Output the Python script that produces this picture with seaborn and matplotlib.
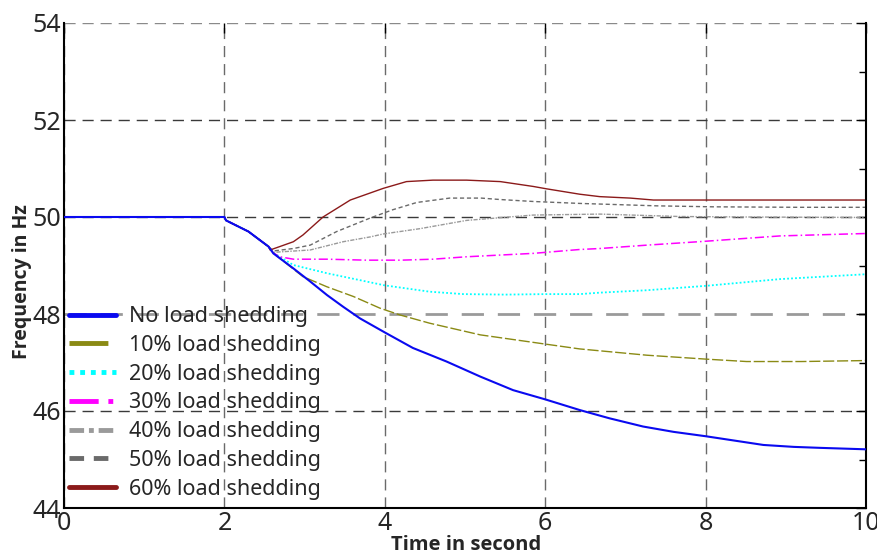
import numpy as np
import pandas as pd
import matplotlib
matplotlib.use("Agg")
import matplotlib.pyplot as plt
from matplotlib.ticker import MultipleLocator
import seaborn as sns

sns.set_theme(style="white")
plt.rcParams["font.family"] = ["Noto Sans", "DejaVu Sans"]

# Frequency before any load is shed (shared by every case)
t_pre = [0.0, 2.0, 2.02, 2.3, 2.55]
f_pre = [50.0, 50.0, 49.93, 49.70, 49.39]

t_none = [2.61, 2.86, 3.07, 3.28, 3.48, 3.69, 4.0, 4.35, 4.77, 5.19, 5.6, 6.0,
          6.43, 6.8, 7.22, 7.6, 8.0, 8.4, 8.72, 9.1, 9.43, 10.0]
f_none = [49.25, 48.94, 48.67, 48.39, 48.15, 47.91, 47.62, 47.30, 47.02, 46.71,
          46.43, 46.24, 46.02, 45.85, 45.68, 45.57, 45.48, 45.38, 45.30, 45.26,
          45.24, 45.21]

t_10 = [2.61, 2.69, 2.98, 3.28, 3.61, 3.94, 4.19, 4.56, 5.19, 6.0, 6.43, 7.27,
        8.0, 8.51, 9.2, 10.0]
f_10 = [49.26, 49.15, 48.77, 48.56, 48.36, 48.12, 47.98, 47.81, 47.57, 47.38,
        47.28, 47.15, 47.07, 47.02, 47.02, 47.04]

t_20 = [2.61, 2.65, 2.86, 3.28, 3.77, 4.0, 4.56, 4.98, 5.5, 6.0, 6.43, 6.68,
        7.27, 8.0, 8.93, 10.0]
f_20 = [49.26, 49.22, 49.01, 48.84, 48.67, 48.59, 48.46, 48.41, 48.40, 48.41,
        48.41, 48.44, 48.49, 48.58, 48.72, 48.82]

t_30 = [2.61, 2.69, 2.86, 3.28, 3.77, 4.2, 4.6, 5.02, 5.85, 6.43, 6.68, 7.27,
        8.0, 8.93, 10.0]
f_30 = [49.26, 49.18, 49.13, 49.13, 49.11, 49.11, 49.13, 49.18, 49.25, 49.33,
        49.35, 49.42, 49.50, 49.61, 49.66]

t_40 = [2.61, 2.69, 3.07, 3.48, 3.82, 3.98, 4.44, 5.02, 5.85, 6.68, 7.68, 8.5,
        10.0]
f_40 = [49.27, 49.28, 49.32, 49.49, 49.59, 49.65, 49.76, 49.93, 50.04, 50.06,
        50.01, 50.0, 49.99]

t_50 = [2.61, 2.86, 3.07, 3.4, 3.82, 4.1, 4.4, 4.81, 5.2, 5.44, 5.85, 6.43,
        7.39, 8.09, 9.13, 10.0]
f_50 = [49.30, 49.35, 49.42, 49.70, 49.98, 50.15, 50.30, 50.39, 50.39, 50.36,
        50.32, 50.28, 50.23, 50.21, 50.20, 50.20]

t_60 = [2.57, 2.69, 2.86, 2.98, 3.23, 3.57, 3.98, 4.27, 4.6, 5.02, 5.44, 5.85,
        6.02, 6.43, 6.68, 7.06, 7.35, 8.0, 10.0]
f_60 = [49.32, 49.39, 49.49, 49.63, 50.0, 50.35, 50.59, 50.73, 50.76, 50.76,
        50.73, 50.63, 50.58, 50.47, 50.42, 50.39, 50.35, 50.35, 50.35]

labels = ["No load shedding", "10% load shedding", "20% load shedding",
          "30% load shedding", "40% load shedding", "50% load shedding",
          "60% load shedding"]
series = [(t_none, f_none), (t_10, f_10), (t_20, f_20), (t_30, f_30),
          (t_40, f_40), (t_50, f_50), (t_60, f_60)]

colors = ["#0a0af0", "#8a8a14", "#00ffff", "#ff00ff", "#9a9a9a", "#6a6a6a", "#8b1a1a"]
styles = ["-", (0, (8, 2)), (0, (1, 1.2)), (0, (6, 2, 1, 2)),
          (0, (3, 1, 1, 1)), (0, (3, 2)), "-"]
widths = [1.5, 1.0, 1.3, 1.1, 1.0, 1.0, 1.0]
layers = [3.0, 2.0, 2.0, 2.0, 2.0, 2.0, 2.0]

frames = []
for lab, (tt, ff) in zip(labels, series):
    frames.append(pd.DataFrame({"Time": t_pre + tt, "Freq": f_pre + ff, "case": lab}))
df = pd.concat(frames, ignore_index=True)

fig = plt.figure(figsize=(8.78, 5.54), dpi=100)
ax = fig.add_axes([64 / 878, 1 - 508 / 554, 802 / 878, 485 / 554])

for lab, col, ls, lw, z in zip(labels, colors, styles, widths, layers):
    sub = df[df["case"] == lab]
    sns.lineplot(data=sub, x="Time", y="Freq", ax=ax, color=col, linestyle=ls,
                 linewidth=lw, label=lab, sort=False, estimator=None, zorder=z)

ax.set_xlim(0, 10)
ax.set_ylim(44, 54)
ax.xaxis.set_major_locator(MultipleLocator(2))
ax.yaxis.set_major_locator(MultipleLocator(2))
ax.xaxis.set_minor_locator(MultipleLocator(1))
ax.yaxis.set_minor_locator(MultipleLocator(1))

ax.grid(True, which="major", linestyle=(0, (8, 5)), color="#3a3a3a", linewidth=1.0)
for val, gl in zip(ax.get_xticks(), ax.xaxis.get_gridlines()):
    gl.set_color("#6a6a6a")
for val, gl in zip(ax.get_yticks(), ax.yaxis.get_gridlines()):
    if abs(val - 48) < 1e-6:
        gl.set_color("#9a9a9a")
        gl.set_linewidth(2.0)
    elif abs(val - 54) < 1e-6:
        gl.set_color("#8a8a8a")

ax.tick_params(which="both", direction="in", top=True, right=True,
               color="black", width=1.0)
ax.tick_params(which="major", length=7, labelsize=18, pad=2)
ax.tick_params(which="minor", length=5, top=False)

for side in ["left", "bottom", "right"]:
    ax.spines[side].set_visible(True)
    ax.spines[side].set_color("black")
    ax.spines[side].set_linewidth(1.5)
ax.spines["top"].set_visible(False)

label_font = ["Open Sans", "Liberation Sans", "DejaVu Sans"]
ax.set_xlabel("Time in second", fontsize=14.5, fontweight="bold", family=label_font)
ax.set_ylabel("Frequency in Hz", fontsize=14, fontweight="bold", family=label_font)
ax.xaxis.set_label_coords(0.502, -0.056)
ax.yaxis.set_label_coords(-0.04, 0.467)

leg = ax.legend(loc="upper left", bbox_to_anchor=(0.006, 0.416), frameon=False,
                fontsize=15.5, handlelength=2.2, handletextpad=0.6,
                labelspacing=0.36, borderpad=0, borderaxespad=0)
for ln in leg.get_lines():
    ln.set_linewidth(3.5)

fig.savefig("out.png", dpi=100)
